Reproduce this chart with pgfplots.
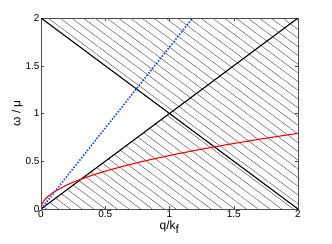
\documentclass[border=0pt]{standalone}
\usepackage{fontspec}
\setmainfont{Liberation Sans}
\usepackage{pgfplots}
\pgfplotsset{compat=1.18}
\usetikzlibrary{patterns.meta}
\definecolor{mblue}{RGB}{30,70,255}
\begin{document}
\begin{tikzpicture}
\begin{axis}[name=ax,
  scale only axis, width=257bp, height=191bp,
  xmin=0, xmax=2, ymin=0, ymax=2,
  xtick={0,0.5,1,1.5,2}, ytick={0,0.5,1,1.5,2},
  xticklabels={0,0.5,1,1.5,2}, yticklabels={0,0.5,1,1.5,2},
  tick align=inside, major tick length=3bp,
  axis line style={black!70, line width=0.5pt},
  tick style={black!70, line width=0.5pt},
  ticklabel style={font=\fontsize{10}{12}\selectfont},
  xticklabel style={yshift=2bp},
  yticklabel style={xshift=2bp},
  xlabel={q/k$_{\textrm{f}}$}, ylabel={ω / μ},
  label style={font=\fontsize{12}{14}\selectfont},
  xlabel style={yshift=4bp},
  ylabel style={yshift=-4bp},
  clip=true,
]
\addplot[draw=none, pattern={Lines[angle=-36.6, distance=7bp, line width=0.45pt]}, pattern color=black!65]
  coordinates {(0,0) (2,0) (2,2) (0,2) (1,1) (0,0)} -- cycle;
\addplot[black, line width=1.1pt] coordinates {(0,0) (2,2)};
\addplot[black, line width=1.1pt] coordinates {(0,2) (2,0)};
\addplot[red, line width=1.1pt, smooth] coordinates {
(0,0) (0.002,0.025) (0.01,0.056) (0.025,0.089) (0.05,0.125) (0.1,0.177) (0.2,0.25) (0.3,0.307) (0.5,0.396) (0.75,0.485) (1,0.56) (1.25,0.626) (1.5,0.686) (1.75,0.741) (2,0.792)};
\addplot[mblue, line width=1.6pt, dash pattern=on 1.5pt off 1.6pt] coordinates {(0,0) (1.18,2)};
\end{axis}
\pgfresetboundingbox
\path (ax.south west) ++(-41bp,-35bp) rectangle ([xshift=34bp,yshift=18bp]ax.north east);
\end{tikzpicture}
\end{document}
